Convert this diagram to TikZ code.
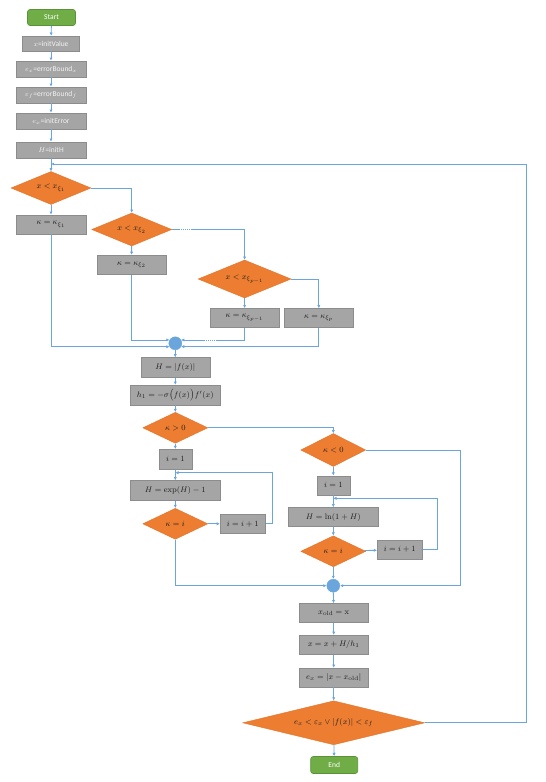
\documentclass[tikz,border=0pt]{standalone}
\usepackage[no-math]{fontspec}
\setmainfont{Carlito}
\usetikzlibrary{shapes.geometric,arrows.meta,calc}
\definecolor{gbox}{HTML}{A5A5A5}
\definecolor{gline}{HTML}{8C8C8C}
\definecolor{orng}{HTML}{ED7D31}
\definecolor{orngl}{HTML}{E27429}
\definecolor{grn}{HTML}{70AD47}
\definecolor{grnl}{HTML}{5A9237}
\definecolor{conn}{HTML}{6AA6DC}
\definecolor{txt}{HTML}{1F1F1F}
\definecolor{ltxt}{HTML}{F2F2F2}
\tikzset{
  pbox/.style={rectangle,fill=gbox,draw=gline,line width=0.6pt,inner sep=0pt,font=\fontsize{8.5}{9}\selectfont,text=txt},
  tbox/.style={pbox,minimum width=70pt,minimum height=16pt,text=ltxt,font=\fontsize{7.5}{8}\selectfont},
  dbox/.style={diamond,aspect=2.4,fill=orng,draw=orngl,line width=0.4pt,inner sep=0pt,font=\fontsize{8.5}{9}\selectfont,text=txt},
  term/.style={rectangle,rounded corners=2.5pt,fill=grn,draw=grnl,line width=0.6pt,inner sep=0pt,minimum width=48pt,minimum height=16pt,text=white,font=\fontsize{7.5}{8}\selectfont},
  junc/.style={circle,fill=conn,draw=conn,minimum size=13pt,inner sep=0pt},
  arr/.style={draw=conn,line width=0.9pt,-{Latex[length=3.2pt,width=3.2pt]}},
  gap/.style={draw=white,line width=0.5pt,dash pattern=on 1pt off 1pt}
}
\begin{document}
\begin{tikzpicture}[x=1pt,y=-1pt]
\useasboundingbox (0,0) rectangle (546,782);
% top column
\node[term] (start) at (51.5,17.5) {Start};
\node[tbox,minimum width=57pt,minimum height=15pt] (b1) at (51,43.5) {$x$=initValue};
\node[tbox] (b2) at (51,69) {$\varepsilon_x$=errorBound$_x$};
\node[tbox] (b3) at (51,95) {$\varepsilon_f$=errorBound$_f$};
\node[tbox] (b4) at (51,121) {$e_x$=initError};
\node[tbox] (b5) at (51,150) {$H$=initH};
\coordinate (jn1) at (51,164);
% decisions on kappa
\node[dbox,minimum width=80pt,minimum height=33pt] (d1) at (51,188) {$x<x_{\xi_1}$};
\node[pbox,minimum width=70pt,minimum height=19pt] (k1) at (51,224.5) {$\kappa=\kappa_{\xi_1}$};
\node[dbox,minimum width=80pt,minimum height=33pt] (d2) at (131.7,229.5) {$x<x_{\xi_2}$};
\node[pbox,minimum width=69pt,minimum height=19pt] (k2) at (131.5,264.7) {$\kappa=\kappa_{\xi_2}$};
\node[dbox,minimum width=93pt,minimum height=38pt] (d3) at (244.6,279) {$x<x_{\xi_{p-1}}$};
\node[pbox,minimum width=69pt,minimum height=19pt] (k3) at (244.6,318) {$\kappa=\kappa_{\xi_{p-1}}$};
\node[pbox,minimum width=69pt,minimum height=19pt] (k4) at (318.8,318) {$\kappa=\kappa_{\xi_p}$};
\node[junc] (c1) at (175.3,343.3) {};
% middle
\node[pbox,minimum width=69pt,minimum height=20pt] (hh) at (175.3,367.7) {$H=|f(x)|$};
\node[pbox,minimum width=90pt,minimum height=20pt] (h1) at (175.3,395) {$h_1=-\sigma\bigl(f(x)\bigr)f'(x)$};
\node[dbox,minimum width=65pt,minimum height=31pt] (d4) at (175.3,427.8) {$\kappa>0$};
\node[pbox,minimum width=33pt,minimum height=20pt] (i1) at (175.3,459.3) {$i=1$};
\coordinate (jn2) at (175.3,472.7);
\node[pbox,minimum width=90pt,minimum height=20pt] (ex) at (175.3,490.5) {$H=\exp(H)-1$};
\node[dbox,minimum width=65pt,minimum height=31pt] (d5) at (175.3,523.8) {$\kappa=i$};
\node[pbox,minimum width=45pt,minimum height=19pt] (ii1) at (242.7,523.8) {$i=i+1$};
% right branch
\node[dbox,minimum width=65pt,minimum height=33pt] (d6) at (333.3,450) {$\kappa<0$};
\node[pbox,minimum width=33pt,minimum height=19pt] (i2) at (333.3,485.3) {$i=1$};
\coordinate (jn3) at (333.3,498.3);
\node[pbox,minimum width=90pt,minimum height=19pt] (ln) at (333.3,517) {$H=\ln(1+H)$};
\node[dbox,minimum width=65pt,minimum height=31pt] (d7) at (333.3,551.3) {$\kappa=i$};
\node[pbox,minimum width=45pt,minimum height=19pt] (ii2) at (399.8,549.7) {$i=i+1$};
\node[junc] (c2) at (333.3,585.7) {};
% bottom
\node[pbox,minimum width=69pt,minimum height=19pt] (xo) at (333.7,613) {$x_{\mathrm{old}}=\mathrm{x}$};
\node[pbox,minimum width=69pt,minimum height=19pt] (xn) at (333.7,644.7) {$x=x+H/h_1$};
\node[pbox,minimum width=69pt,minimum height=19pt] (exb) at (333.7,677.5) {$e_x=|x-x_{\mathrm{old}}|$};
\node[dbox,minimum width=182pt,minimum height=44pt] (d8) at (333.7,722.8) {$e_x<\varepsilon_x\vee|f(x)|<\varepsilon_f$};
\node[term,minimum width=47pt,minimum height=17pt] (end) at (334.2,765) {End};
% connectors
\draw[arr] (start) -- (b1);
\draw[arr] (b1) -- (b2);
\draw[arr] (b2) -- (b3);
\draw[arr] (b3) -- (b4);
\draw[arr] (b4) -- (b5);
\draw[arr] (b5) -- (d1);
\draw[arr] (d1) -- (k1);
\draw[arr] (d1.east) -| (d2.north);
\draw[arr] (d2) -- (k2);
\draw[arr] (d2.east) -| (d3.north);
\draw[arr] (d3) -- (k3);
\draw[arr] (d3.east) -| (k4.north);
\draw[arr] (k1.south) |- (c1.211);
\draw[arr] (k2.south) |- (c1.150);
\draw[arr] (k3.south) |- (c1.30);
\draw[arr] (k4.south) |- (c1.330);
\draw[gap] (180,229.5) -- (191.7,229.5);
\draw[gap] (205,340.1) -- (216.7,340.1);
\draw[arr] (c1) -- (hh);
\draw[arr] (hh) -- (h1);
\draw[arr] (h1) -- (d4);
\draw[arr] (d4) -- (i1);
\draw[arr] (i1) -- (ex);
\draw[arr] (ex) -- (d5);
\draw[arr] (d5) -- (ii1);
\draw[arr] (ii1.east) -- ++(6.5,0) |- (jn2);
\draw[arr] (d4.east) -| (d6.north);
\draw[arr] (d6) -- (i2);
\draw[arr] (i2) -- (ln);
\draw[arr] (ln) -- (d7);
\draw[arr] (d7) -- (ii2);
\draw[arr] (ii2.east) -- ++(14.5,0) |- (jn3);
\draw[arr] (d5.south) |- (c2.west);
\draw[arr] (d6.east) -- ++(94,0) |- (c2.east);
\draw[arr] (d7) -- (c2);
\draw[arr] (c2) -- (xo);
\draw[arr] (xo) -- (xn);
\draw[arr] (xn) -- (exb);
\draw[arr] (exb) -- (d8);
\draw[arr] (d8) -- (end);
\draw[arr] (d8.east) -- ++(102,0) |- (jn1);
\end{tikzpicture}
\end{document}
